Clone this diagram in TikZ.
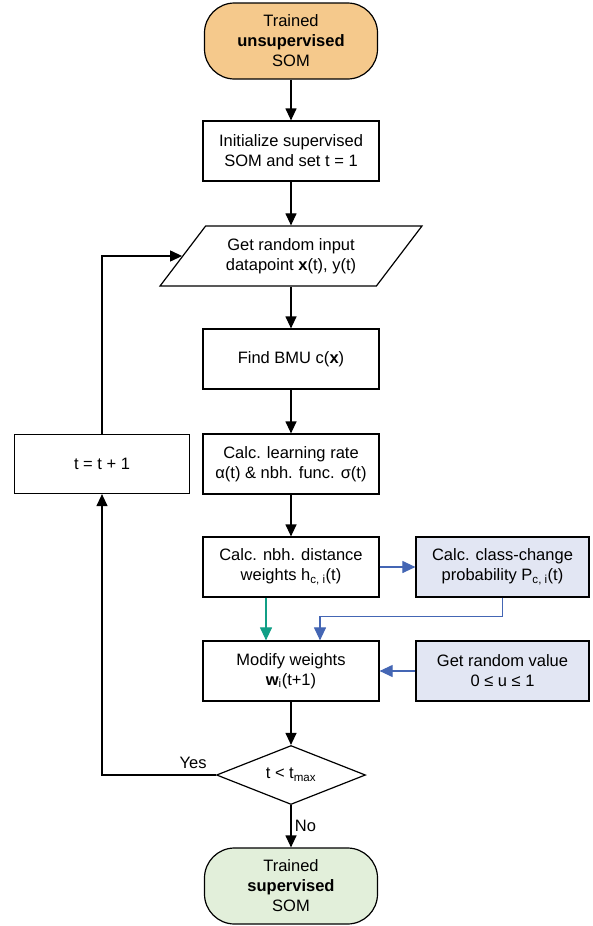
\documentclass[tikz,border=0pt]{standalone}
\usepackage{fontspec}
\setmainfont{Liberation Sans}
\usepackage{tikz}
\usetikzlibrary{arrows.meta,shapes.geometric}
\definecolor{termorange}{HTML}{F5C98C}
\definecolor{termgreen}{HTML}{E2EFDA}
\definecolor{sidefill}{HTML}{E2E6F3}
\definecolor{sideline}{HTML}{4466B4}
\definecolor{hline}{HTML}{119F86}

\begin{document}
\begin{tikzpicture}[x=1pt,y=1pt,->,>={Triangle[length=12pt,width=11pt]},
		line width=1.2pt,node distance=104pt,font=\fontsize{16.5}{20}\selectfont]
		\tikzstyle{terminal}=[draw,rounded corners=30pt,minimum width=173pt,minimum height=76pt,align=center]
		\tikzstyle{process}=[draw,fill=white,minimum width=176pt,minimum height=60pt,align=center]
		\tikzstyle{io}=[draw,trapezium,trapezium left angle=49,trapezium right angle=131,
			trapezium stretches=true,minimum width=262pt,minimum height=60pt,align=center]
		\tikzstyle{decision}=[draw,diamond,aspect=2.5,minimum width=149pt,minimum height=59pt,inner sep=1pt]
		\tikzstyle{side}=[process,fill=sidefill,minimum width=173pt]
		\tikzstyle{blueflow}=[draw=sideline,line width=1.1pt,-{Triangle[length=13pt,width=12pt]}]
		
		\useasboundingbox (0,0) rectangle (592,-926);
		
		\node[terminal,fill=termorange] (start) at (291,-41) {Trained\\\textbf{unsupervised}\\SOM};
		\node[process] (init) [below of=start,node distance=110pt] {Initialize supervised\\SOM and set t = 1};
		\node[io] (get) [below of=init,node distance=105pt] {Get random input\\datapoint \textbf{x}(t), y(t)};
		\node[process] (bmu) [below of=get,node distance=103pt] {Find BMU c(\textbf{x})};
		\node[process] (rate) [below of=bmu,node distance=105pt] {Calc. learning rate\\α(t) \& nbh. func. σ(t)};
		\node[process] (nbh) [below of=rate,node distance=103pt] {Calc. nbh. distance\\weights h\textsubscript{c, i}(t)};
		\node[process] (modify) [below of=nbh] {Modify weights\\\textbf{w}\textsubscript{i}(t+1)};
		\node[decision] (check) [below of=modify] {t < t\textsubscript{max}};
		\node[terminal,fill=termgreen] (done) [below of=check,node distance=111pt] {Trained\\\textbf{supervised}\\SOM};
		
		\node[process,minimum width=175pt,minimum height=59pt] (incr) [left of=rate,node distance=189pt] {t = t + 1};
		\node[side] (prob) [right of=nbh,node distance=211.5pt] {Calc. class-change\\probability P\textsubscript{c, i}(t)};
		\node[side] (rand) [right of=modify,node distance=211.5pt] {Get random value\\0 ≤ u ≤ 1};
		
		\draw (start) -- (init);
		\draw (init) -- (get);
		\draw (bmu.north |- get.south) -- (bmu.north);
		\draw (bmu) -- (rate);
		\draw (rate) -- (nbh);
		\draw (modify) -- (check);
		\draw (check) -- node[right] {No} (done);
		
		\draw[blueflow,draw=hline] ([xshift=-25pt]nbh.south) -- ([xshift=-25pt]modify.north);
		\draw[blueflow] (nbh.east) -- (prob.west);
		\draw[blueflow] (prob.south) -- ++(0,-19) -| ([xshift=29pt]modify.north);
		\draw[blueflow] (rand.west) -- (modify.east);
		
		\draw (check.west) -| node[pos=0.1,above=2pt] {Yes} (incr.south);
		\draw (incr.north) |- (get.west);
\end{tikzpicture}
\end{document}
